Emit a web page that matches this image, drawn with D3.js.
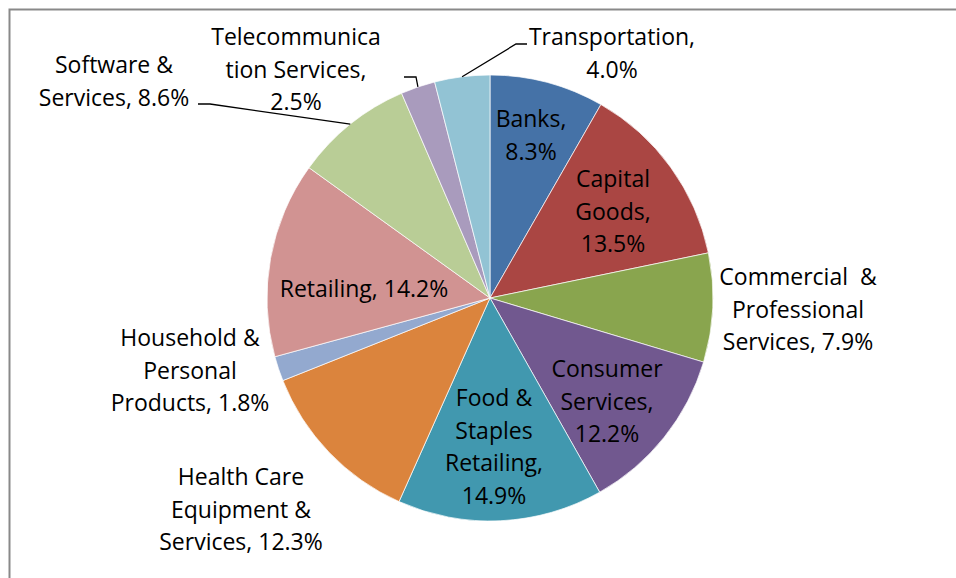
<!DOCTYPE html>
<html>
<head>
<meta charset="utf-8">
<script src="https://cdn.jsdelivr.net/npm/d3@7"></script>
<style>
	body { margin: 0; background: #fff; }
	text { font-family: "Open Sans", Lato, sans-serif; font-size: 23px; fill: #000; }
</style>
</head>
<body>
<svg id="chart" width="956" height="578"></svg>
<script>
// data
var sectors = ["Banks", "Capital Goods", "Commercial & Professional Services", "Consumer Services",
	"Food & Staples Retailing", "Health Care Equipment & Services", "Household & Personal Products",
	"Retailing", "Software & Services", "Telecommunication Services", "Transportation"];
var shares = [8.3, 13.5, 7.9, 12.2, 14.9, 12.3, 1.8, 14.2, 8.6, 2.5, 4.0];
var colors = ["#4572a7", "#aa4643", "#89a54e", "#71588f", "#4198af", "#db843d",
	"#93a9cf", "#d19392", "#b9cd96", "#a99bbd", "#92c3d4"];
// label text, broken the way excel wrapped it
var labelLines = [
	["Banks,", "8.3%"],
	["Capital", "Goods,", "13.5%"],
	["Commercial\u00a0 &", "Professional", "Services, 7.9%"],
	["Consumer", "Services,", "12.2%"],
	["Food &", "Staples", "Retailing,", "14.9%"],
	["Health Care", "Equipment &", "Services, 12.3%"],
	["Household &", "Personal", "Products, 1.8%"],
	["Retailing, 14.2%"],
	["Software &", "Services, 8.6%"],
	["Telecommunica", "tion Services,", "2.5%"],
	["Transportation,", "4.0%"]
];

// layout
var cx = 490, cy = 298, radius = 223, lineH = 32.5;
// label anchor: centre x, baseline of first line
var labelPos = [
	[531, 127], [613, 187], [798, 285], [607, 377], [494, 406], [241, 485],
	[190, 346], [364, 297], [114, 73], [296, 45], [612, 45]
];
// leader line elbows for the outside labels (index -> [label end, elbow])
var leaders = {
	8: [[198, 104], [210, 104]],
	9: [[404, 77], [416, 77]],
	10: [[527, 44], [516, 44]]
};

var svg = d3.select("#chart");

// chart frame
svg.append("rect")
	.attr("x", 9.5).attr("y", 9.5)
	.attr("width", 1000).attr("height", 700)
	.attr("fill", "none")
	.attr("stroke", "#898989")
	.attr("stroke-width", 2);

var pie = d3.pie().sort(null).value(function (d) { return d; });
var arcs = pie(shares);
var arc = d3.arc().innerRadius(0).outerRadius(radius);

var g = svg.append("g").attr("transform", "translate(" + cx + "," + cy + ")");
g.selectAll("path").data(arcs)
	.enter().append("path")
	.attr("d", arc)
	.attr("fill", function (d, i) { return colors[i]; })
	.attr("stroke", "#fff")
	.attr("stroke-width", 0.7);

// leader lines end on the slice edge at mid angle
Object.keys(leaders).forEach(function (k) {
	var a = arcs[k];
	var mid = (a.startAngle + a.endAngle) / 2;
	var pts = leaders[k].concat([[cx + radius * Math.sin(mid), cy - radius * Math.cos(mid)]]);
	svg.append("path")
		.attr("d", d3.line()(pts))
		.attr("fill", "none")
		.attr("stroke", "#000")
		.attr("stroke-width", 1.3);
});

svg.selectAll("text.lbl").data(labelLines)
	.enter().append("text")
	.attr("class", "lbl")
	.attr("text-anchor", "middle")
	.each(function (lines, i) {
		var t = d3.select(this);
		lines.forEach(function (s, j) {
			t.append("tspan")
				.attr("x", labelPos[i][0])
				.attr("y", labelPos[i][1] + j * lineH)
				.text(s);
		});
	});
</script>
</body>
</html>
